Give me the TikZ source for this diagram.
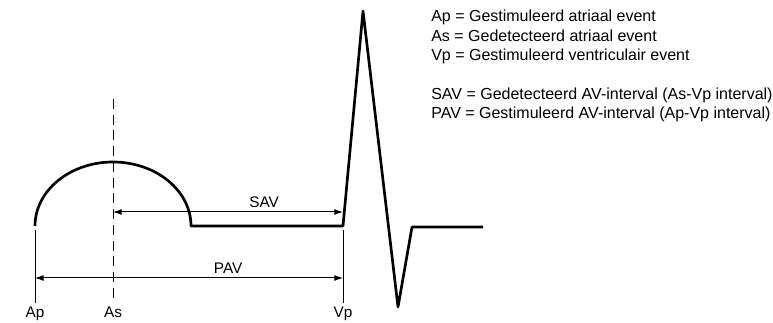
\documentclass[tikz,border=0pt]{standalone}
\usepackage{fontspec}
\setmainfont{Liberation Sans}
\usetikzlibrary{arrows.meta}
\tikzset{
  wave/.style={line width=2pt, line join=round},
  mark line/.style={line width=0.75pt},
  interval/.style={line width=0.75pt, {Latex[length=6.5pt,width=4.5pt]}-{Latex[length=6.5pt,width=4.5pt]}},
  event/.style={anchor=north, inner sep=0pt, inner ysep=3pt, font=\fontsize{11.5}{13}\selectfont},
  span label/.style={above, inner sep=3pt, font=\fontsize{11.5}{13}\selectfont}
}
\begin{document}
\begin{tikzpicture}[x=0.75pt,y=-0.75pt]
\useasboundingbox (0,0) rectangle (773,323);
% waveform
\draw [wave] (35,226) arc [start angle=180, end angle=360, x radius=78, y radius=64]
  -- (343,226) -- (363,11) -- (398,307) -- (412,227) -- (483,227);
% event labels
\node [event] (ap) at (35,303) {Ap};
\node [event] (as) at (113,303) {As};
\node [event] (vp) at (343,303) {Vp};
\coordinate (ap-top) at (35,230);
\coordinate (as-top) at (113,99);
\coordinate (vp-top) at (343,230);
\draw [mark line] (ap-top) -- (ap.north);
\draw [mark line, dash pattern=on 7.5pt off 4.3pt] (as-top) -- (as.north);
\draw [mark line] (vp-top) -- (vp.north);
% intervals
\draw [interval] (as.north |- 0,212) -- node[span label, pos=0.657]{SAV} (vp.north |- 0,212);
\draw [interval] (ap.north |- 0,278) -- node[span label, pos=0.627]{PAV} (vp.north |- 0,278);
% legend
\node [anchor=north west, align=left, inner sep=0pt, font=\fontsize{12}{14.5}\selectfont] (legend) at (431,10)
  {Ap = Gestimuleerd atriaal event\\
   As = Gedetecteerd atriaal event\\
   Vp = Gestimuleerd ventriculair event\\[14.5pt]
   SAV = Gedetecteerd AV-interval (As-Vp interval)\\
   PAV = Gestimuleerd AV-interval (Ap-Vp interval)};
\end{tikzpicture}
\end{document}
